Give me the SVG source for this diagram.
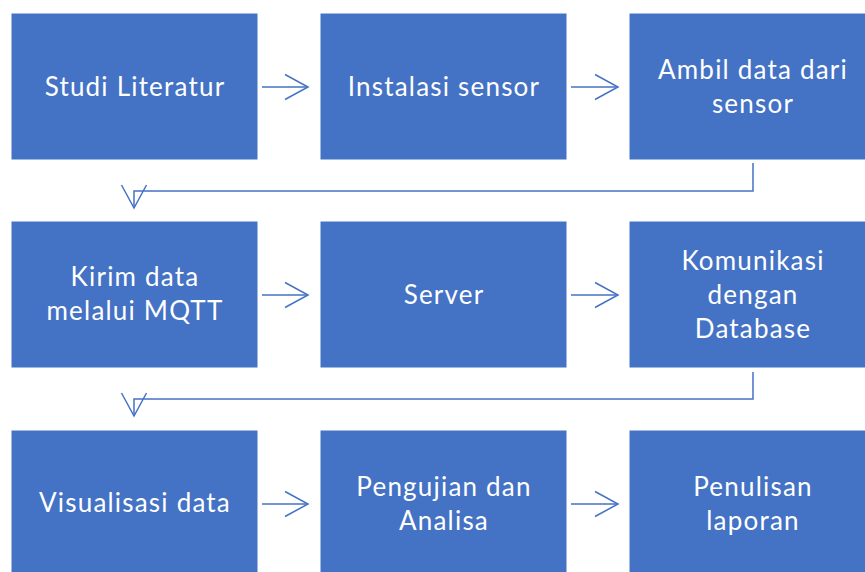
<svg xmlns="http://www.w3.org/2000/svg" width="865" height="572" viewBox="0 0 865 572">
<style>
.box{fill:#4472C4;stroke:#ffffff;stroke-width:1}
.lbl{font-family:Lato,"Open Sans","Liberation Sans",sans-serif;font-size:26px;letter-spacing:1.2px;fill:#ffffff;text-anchor:middle}
.con{fill:none;stroke:#4472C4;stroke-width:1.5}
</style>
<defs>
<marker id="ah" markerUnits="userSpaceOnUse" viewBox="0 0 26 28" refX="24" refY="14" markerWidth="26" markerHeight="28" orient="auto">
<path d="M1,1.5 L24,14 L1,26.5" fill="none" stroke="#4472C4" stroke-width="1.5"/>
</marker>
</defs>
<rect width="865" height="572" fill="#ffffff"/>
<g id="n1"><rect class="box" x="11" y="13" width="247" height="147"/><text class="lbl" x="135" y="96">Studi Literatur</text></g>
<g id="n2"><rect class="box" x="320" y="13" width="247" height="147"/><text class="lbl" x="444" y="96">Instalasi sensor</text></g>
<g id="n3"><rect class="box" x="629" y="13" width="247" height="147"/><text class="lbl" x="753" y="79">Ambil data dari</text><text class="lbl" x="753" y="113">sensor</text></g>
<g id="n4"><rect class="box" x="11" y="221" width="247" height="147"/><text class="lbl" x="135" y="286">Kirim data</text><text class="lbl" x="135" y="320">melalui MQTT</text></g>
<g id="n5"><rect class="box" x="320" y="221" width="247" height="147"/><text class="lbl" x="444" y="304">Server</text></g>
<g id="n6"><rect class="box" x="629" y="221" width="247" height="147"/><text class="lbl" x="753" y="270">Komunikasi</text><text class="lbl" x="753" y="304">dengan</text><text class="lbl" x="753" y="338">Database</text></g>
<g id="n7"><rect class="box" x="11" y="430" width="247" height="147"/><text class="lbl" x="135" y="512">Visualisasi data</text></g>
<g id="n8"><rect class="box" x="320" y="430" width="247" height="147"/><text class="lbl" x="444" y="496">Pengujian dan</text><text class="lbl" x="444" y="530">Analisa</text></g>
<g id="n9"><rect class="box" x="629" y="430" width="247" height="147"/><text class="lbl" x="753" y="496">Penulisan</text><text class="lbl" x="753" y="530">laporan</text></g>
<g id="connectors">
<path class="con" d="M262,87 H308" marker-end="url(#ah)"/>
<path class="con" d="M571,87 H618" marker-end="url(#ah)"/>
<path class="con" d="M753,163 V191 H134 V208" marker-end="url(#ah)"/>
<path class="con" d="M262,295 H308" marker-end="url(#ah)"/>
<path class="con" d="M571,295 H618" marker-end="url(#ah)"/>
<path class="con" d="M753,372 V399 H134 V416" marker-end="url(#ah)"/>
<path class="con" d="M262,504 H308" marker-end="url(#ah)"/>
<path class="con" d="M571,504 H618" marker-end="url(#ah)"/>
</g>
</svg>
